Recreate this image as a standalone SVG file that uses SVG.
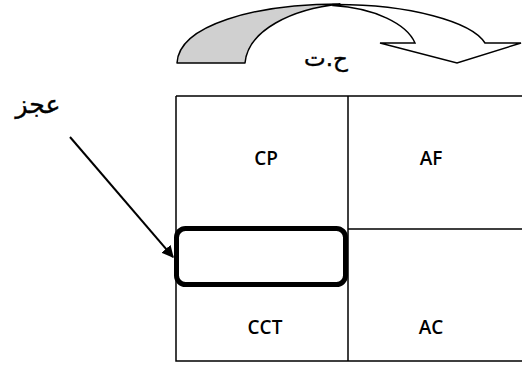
<svg xmlns="http://www.w3.org/2000/svg" width="522" height="365" viewBox="0 0 522 365">
<defs>
<style>
.ln{stroke:#000;stroke-width:1.5;fill:none}
.lbl{font-family:"Open Sans","DejaVu Sans",sans-serif;font-weight:600;font-size:19px;fill:#000;text-anchor:middle}
.ar{font-family:"DejaVu Sans",sans-serif;fill:#000;text-anchor:middle;stroke:#000;stroke-width:0.4}
</style>
<marker id="ah" viewBox="0 0 10 10" refX="9" refY="5" markerWidth="6" markerHeight="6" orient="auto" markerUnits="strokeWidth">
<path d="M0,0 L10,5 L0,10 Z" fill="#000"/>
</marker>
</defs>
<rect width="522" height="365" fill="#fff"/>
<g id="table">
<path class="ln" d="M176,96 H522 M176,96 V361 H522 M348,96 V361 M348,229 H522"/>
</g>
<g id="cp"><text class="lbl" x="266" y="165">CP</text></g>
<g id="af"><text class="lbl" x="431" y="165">AF</text></g>
<g id="cct"><text class="lbl" x="265" y="334">CCT</text></g>
<g id="ac"><text class="lbl" x="431" y="334">AC</text></g>
<g id="deficit">
<rect x="176.5" y="228.5" width="169" height="56" rx="9" fill="none" stroke="#000" stroke-width="5"/>
</g>
<g id="deficit-label"><text class="ar" x="38" y="113" font-size="25">عجز</text></g>
<g id="curved-arrow">
<path d="M177,63 C179,25 255,4 340,4 C292,9 248,30 245,63 Z" fill="#d0d0d0" stroke="#000" stroke-width="1.5" stroke-linejoin="round"/>
<path d="M333,4.5 C410,4 472,22 485,43 L521,43 L457,63 L380,43 L415,43 C407,24 375,8 333,5.5 Z" fill="#fff" stroke="#000" stroke-width="1.5" stroke-linejoin="miter"/>
<text class="ar" x="326" y="66" font-size="23">ح.ت</text>
</g>
<g id="connectors">
<line x1="70" y1="137" x2="173" y2="257" stroke="#000" stroke-width="2" marker-end="url(#ah)"/>
</g>
</svg>
